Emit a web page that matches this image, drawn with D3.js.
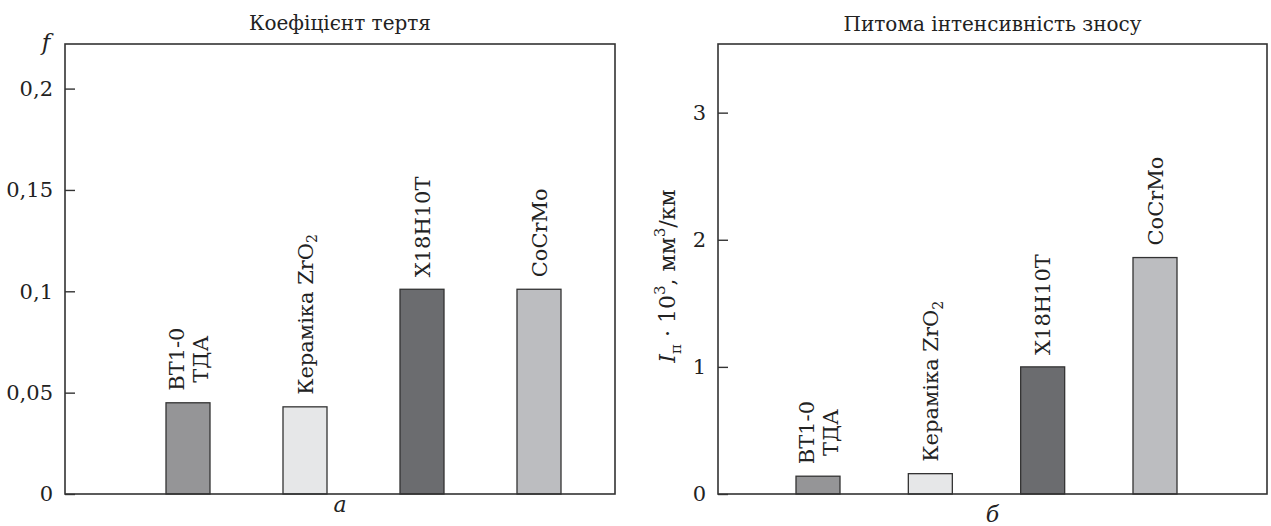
<!DOCTYPE html>
<html>
<head>
<meta charset="utf-8">
<script src="https://cdn.jsdelivr.net/npm/d3@7"></script>
<style>
  body { margin: 0; background: #fff; }
  svg { display: block; }
  text { font-family: "DejaVu Serif", serif; }
</style>
</head>
<body>
<svg id="chart" width="1271" height="526"></svg>
<script>
// materials (same order in both panels)
const materials = ["ВТ1-0\nТДА", "Кераміка ZrO2", "Х18Н10Т", "CoCrMo"]
const barColors = ["#959597", "#e6e7e8", "#6b6c6f", "#bcbdc0"]

// panel a: friction coefficient
const frictionValues = [0.045, 0.043, 0.101, 0.101]
const frictionTicks = [0, 0.05, 0.1, 0.15, 0.2]
const frictionMax = 0.222

// panel b: specific wear rate
const wearValues = [0.14, 0.16, 1.0, 1.86]
const wearTicks = [0, 1, 2, 3]
const wearMax = 3.54

const svg = d3.select("#chart")
const FS = 20

/*
 one panel = frame + ticks + bars + labels
*/
function drawPanel(cfg) {
  const g = svg.append("g")

  const y = d3.scaleLinear().domain([0, cfg.max]).range([cfg.bottom, cfg.top])
  const x = d3.scalePoint().domain(materials).range([cfg.left + cfg.padL, cfg.right - cfg.padR])
  const barW = 44

  // y axis ticks (pointing inward)
  const axis = d3.axisLeft(y)
    .tickValues(cfg.ticks)
    .tickSizeInner(-10)
    .tickSizeOuter(0)
    .tickPadding(12)
    .tickFormat(d => String(d).replace(".", ","))
  const ax = g.append("g").attr("transform", `translate(${cfg.left},0)`).call(axis)
  ax.attr("font-family", null)
  ax.select(".domain").remove()
  ax.selectAll(".tick line").attr("stroke", "#333").attr("stroke-width", 1.4)
  ax.selectAll(".tick text")
    .attr("font-size", 21)
    .attr("fill", "#222")

  // bars
  g.selectAll("rect.bar")
    .data(cfg.values)
    .enter()
    .append("rect")
      .attr("class", "bar")
      .attr("x", (d, i) => x(materials[i]) - barW / 2)
      .attr("y", d => y(d))
      .attr("width", barW)
      .attr("height", d => y(0) - y(d))
      .attr("fill", (d, i) => barColors[i])
      .attr("stroke", "#333")
      .attr("stroke-width", 1.3)

  // rotated labels above bars
  cfg.values.forEach((v, i) => {
    const lines = materials[i].split("\n")
    const cx = x(materials[i])
    const top = y(v) - 12
    const lab = g.append("text")
      .attr("font-size", 21)
      .attr("fill", "#222")
    const lineH = 24
    const n = lines.length
    lines.forEach((line, k) => {
      const off = (k - (n - 1) / 2) * lineH
      const t = lab.append("tspan")
        .attr("x", 0)
        .attr("y", off)
        .attr("dy", "0.36em")
      if (line.endsWith("ZrO2")) {
        t.text(line.slice(0, -1))
        t.append("tspan").attr("font-size", 14).attr("dy", "0.35em").text("2")
      } else {
        t.text(line)
      }
    })
    // measure longest line and anchor its start just above the bar
    let maxLen = 0
    lab.selectAll(":scope > tspan").each(function () {
      maxLen = Math.max(maxLen, this.getComputedTextLength())
    })
    lab.attr("text-anchor", "middle")
      .attr("transform", `translate(${cx},${top - maxLen / 2}) rotate(-90)`)
  })

  // frame
  g.append("rect")
    .attr("x", cfg.left)
    .attr("y", cfg.top)
    .attr("width", cfg.right - cfg.left)
    .attr("height", cfg.bottom - cfg.top)
    .attr("fill", "none")
    .attr("stroke", "#333")
    .attr("stroke-width", 1.6)

  // title
  g.append("text")
    .attr("x", (cfg.left + cfg.right) / 2)
    .attr("y", cfg.titleY)
    .attr("text-anchor", "middle")
    .attr("font-size", FS)
    .attr("fill", "#222")
    .text(cfg.title)

  // panel letter
  g.append("text")
    .attr("x", (cfg.left + cfg.right) / 2)
    .attr("y", cfg.letterY)
    .attr("text-anchor", "middle")
    .attr("font-size", 22)
    .attr("font-style", "italic")
    .attr("fill", "#222")
    .text(cfg.letter)

  return g
}

const gA = drawPanel({
  left: 65, right: 615, top: 44, bottom: 494,
  padL: 123, padR: 76,
  max: frictionMax, ticks: frictionTicks, values: frictionValues,
  title: "Коефіцієнт тертя", titleY: 30,
  letter: "а", letterY: 512
})

// y label a: italic f
gA.append("text")
  .attr("x", 46)
  .attr("y", 50)
  .attr("text-anchor", "middle")
  .attr("font-size", 23)
  .attr("font-style", "italic")
  .attr("fill", "#222")
  .text("f")

const gB = drawPanel({
  left: 718, right: 1267, top: 44, bottom: 494,
  padL: 100, padR: 112,
  max: wearMax, ticks: wearTicks, values: wearValues,
  title: "Питома інтенсивність зносу", titleY: 31,
  letter: "б", letterY: 522
})

// y label b
const yl = gB.append("text")
  .attr("transform", "translate(675,276) rotate(-90)")
  .attr("text-anchor", "middle")
  .attr("font-size", 22)
  .attr("fill", "#222")
yl.append("tspan").attr("font-style", "italic").text("I")
yl.append("tspan").attr("font-size", 15).attr("dy", 6).text("п")
yl.append("tspan").attr("dy", -6).text(" · 10")
yl.append("tspan").attr("font-size", 15).attr("dy", -10).text("3")
yl.append("tspan").attr("dy", 10).text(", мм")
yl.append("tspan").attr("font-size", 15).attr("dy", -10).text("3")
yl.append("tspan").attr("dy", 10).text("/км")
</script>
</body>
</html>
